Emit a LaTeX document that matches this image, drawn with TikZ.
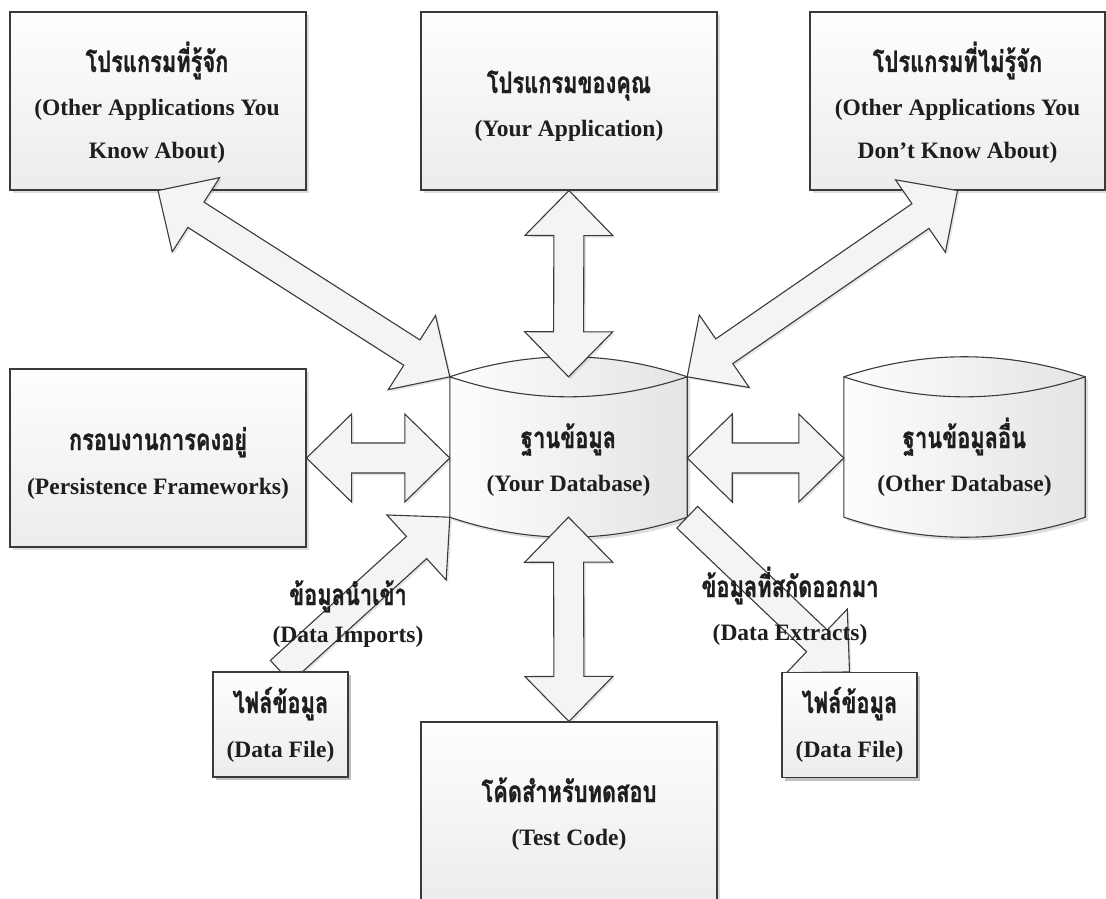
\documentclass[tikz,border=0pt]{standalone}
\usepackage{fontspec}
\setmainfont{Liberation Serif}
\newfontfamily\thaifont[Script=Thai,FakeStretch=0.74,FakeBold=1]{Loma}
\usetikzlibrary{calc,shadows}

\definecolor{edge}{HTML}{3A3A3A}
\definecolor{ink}{HTML}{1E1E1E}
\definecolor{boxtop}{HTML}{FEFEFE}
\definecolor{boxbot}{HTML}{ECECEC}
\definecolor{arrfill}{HTML}{F4F4F4}
\definecolor{cylleft}{HTML}{FDFDFD}
\definecolor{cylright}{HTML}{E4E4E4}

% fat two-headed block arrow between two points
\newcommand\fatdbl[2]{%
  \draw[fat] (#1)
    -- ($(#1)!45pt!(#2)!44pt!90:(#2)$)
    -- ($(#1)!45pt!(#2)!15pt!90:(#2)$)
    -- ($(#2)!45pt!(#1)!15pt!-90:(#1)$)
    -- ($(#2)!45pt!(#1)!44pt!-90:(#1)$)
    -- (#2)
    -- ($(#2)!45pt!(#1)!44pt!90:(#1)$)
    -- ($(#2)!45pt!(#1)!15pt!90:(#1)$)
    -- ($(#1)!45pt!(#2)!15pt!-90:(#2)$)
    -- ($(#1)!45pt!(#2)!44pt!-90:(#2)$)
    -- cycle;}

% fat one-headed block arrow, tail at #1, head at #2
\newcommand\fatone[2]{%
  \draw[fat] ($(#1)!15pt!90:(#2)$)
    -- ($(#2)!45pt!(#1)!15pt!-90:(#1)$)
    -- ($(#2)!45pt!(#1)!44pt!-90:(#1)$)
    -- (#2)
    -- ($(#2)!45pt!(#1)!44pt!90:(#1)$)
    -- ($(#2)!45pt!(#1)!15pt!90:(#1)$)
    -- ($(#1)!15pt!-90:(#2)$)
    -- cycle;}

% database cylinder drawn around the body frame #1
\newcommand\drum[1]{%
  \draw[cylbody] (#1.north west) -- (#1.south west)
    .. controls ($(#1.south west)!0.3333!(#1.south east)+(0,26.7)$)
       and ($(#1.south west)!0.6667!(#1.south east)+(0,26.7)$) .. (#1.south east)
    -- (#1.north east)
    .. controls ($(#1.north west)!0.6667!(#1.north east)+(0,-26.7)$)
       and ($(#1.north west)!0.3333!(#1.north east)+(0,-26.7)$) .. (#1.north west)
    -- cycle;
  \draw[edge, line width=1.1pt] (#1.north west)
    .. controls ($(#1.north west)!0.3333!(#1.north east)+(0,26.7)$)
       and ($(#1.north west)!0.6667!(#1.north east)+(0,26.7)$) .. (#1.north east);}

\tikzset{
  panel/.style={draw=edge, line width=1.1pt, top color=boxtop, bottom color=boxbot,
    drop shadow={shadow xshift=3pt, shadow yshift=-3pt, opacity=0.13, fill=black},
    inner sep=0pt, minimum width=296pt, minimum height=178pt},
  filebox/.style={panel, minimum width=135pt, minimum height=105pt},
  cylframe/.style={inner sep=0pt, minimum width=237pt, minimum height=140pt},
  cylbody/.style={draw=edge, line width=1.1pt, left color=cylleft, right color=cylright,
    drop shadow={shadow xshift=3pt, shadow yshift=-3pt, opacity=0.13, fill=black}},
  fat/.style={draw=edge, line width=1.1pt, fill=arrfill,
    drop shadow={shadow xshift=2pt, shadow yshift=-2pt, opacity=0.10, fill=black}},
  thl/.style={anchor=base, inner sep=0pt, text=ink, font={\thaifont\bfseries\fontsize{29.5}{30}\selectfont}},
  enl/.style={anchor=base, inner sep=0pt, text=ink, font={\bfseries\fontsize{23.5}{26}\selectfont}},
}

\begin{document}
\begin{tikzpicture}[x=1pt, y=-1pt]
\useasboundingbox (0,0) rectangle (1106,899);
\clip (0,0) rectangle (1106,899);
\fill[white] (0,0) rectangle (1106,899);

% application and framework boxes
\node[panel] (ka) at (158,101) {};
\node[panel] (ya) at (569,101) {};
\node[panel, minimum width=295pt] (ua) at (957.5,101) {};
\node[panel] (pf) at (158,458) {};
\node[panel] (tc) at (569,811) {};

% databases
\node[cylframe] (db) at (568.5,447) {};
\node[cylframe, minimum width=241pt] (odb) at (964.5,447) {};
\drum{db}
\drum{odb}
\coordinate (dbW) at ([yshift=-11pt]db.west);
\coordinate (dbE) at ([yshift=-11pt]db.east);
\coordinate (odbW) at ([yshift=-11pt]odb.west);

% data flows
\fatdbl{ka.south}{db.north west}
\fatdbl{ya.south}{db.north}
\fatdbl{ua.south}{db.north east}
\fatdbl{pf.east}{dbW}
\fatdbl{dbE}{odbW}
\fatdbl{db.south}{tc.north}

\node[filebox] (dfa) at (280.5,724.5) {};
\node[filebox] (dfb) at (849.5,725) {};
\fatone{dfa.north}{db.south west}
\fatone{db.south east}{dfb.north}
\node[filebox] at (dfa) {};
\node[filebox] at (dfb) {};

% texts
\node[thl] (kat) at (157,72) {โปรแกรมที่รู้จัก};
\node[enl] (kae1) at (157,115) {(Other Applications You};
\node[enl] (kae2) at (157,158) {Know About)};

\node[thl] (yat) at (569,93) {โปรแกรมของคุณ};
\node[enl] (yae) at (569,136) {(Your Application)};

\node[thl] (uat) at (957.5,72) {โปรแกรมที่ไม่รู้จัก};
\node[enl] (uae1) at (957.5,115) {(Other Applications You};
\node[enl] (uae2) at (957.5,158) {Don’t Know About)};

\node[thl] (pft) at (158,450) {กรอบงานการคงอยู่};
\node[enl] (pfe) at (158,494) {(Persistence Frameworks)};

\node[thl] (dbt) at (568.5,448) {ฐานข้อมูล};
\node[enl] (dbe) at (568.5,491) {(Your Database)};

\node[thl] (odbt) at (964.5,448) {ฐานข้อมูลอื่น};
\node[enl] (odbe) at (964.5,491) {(Other Database)};

\node[thl] (tct) at (569,802) {โค้ดสำหรับทดสอบ};
\node[enl] (tce) at (569,845) {(Test Code)};

\node[thl] (dfat) at (280.5,713) {ไฟล์ข้อมูล};
\node[enl] (dfae) at (280.5,757) {(Data File)};
\node[thl] (dfbt) at (849.5,713) {ไฟล์ข้อมูล};
\node[enl] (dfbe) at (849.5,757) {(Data File)};

\node[thl] (imt) at (348,605) {ข้อมูลนำเข้า};
\node[enl] (ime) at (348,642) {(Data Imports)};
\node[thl] (ext) at (790,597) {ข้อมูลที่สกัดออกมา};
\node[enl] (exe) at (790,640) {(Data Extracts)};
\end{tikzpicture}
\end{document}
